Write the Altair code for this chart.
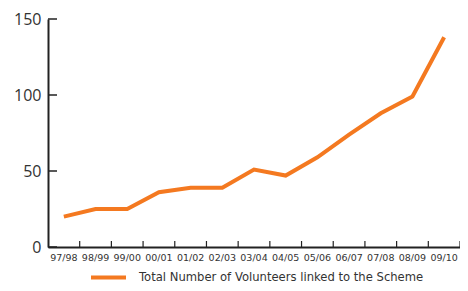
import altair as alt
import pandas as pd

years = ["97/98", "98/99", "99/00", "00/01", "01/02", "02/03", "03/04",
         "04/05", "05/06", "06/07", "07/08", "08/09", "09/10"]
volunteers = [20, 25, 25, 36, 39, 39, 51, 47, 59, 74, 88, 99, 138]
y_ticks = [0, 50, 100, 150]
series_name = "Total Number of Volunteers linked to the Scheme"

df = pd.DataFrame({"year": years, "value": volunteers, "series": series_name})
ticks_df = pd.DataFrame({"value": y_ticks})

AXIS_COLOR = "#222222"
TEXT_COLOR = "#333333"
xscale = alt.Scale(type="band", paddingInner=0, paddingOuter=0, domain=years)
yscale = alt.Scale(domain=[0, 150], nice=False, zero=True)

xaxis = alt.Axis(title=None, ticks=False, labelAngle=0,
                 labelFont="DejaVu Sans", labelFontSize=9.5,
                 labelColor=TEXT_COLOR, labelPadding=5,
                 domainColor=AXIS_COLOR, domainWidth=2)
yaxis = alt.Axis(title=None, ticks=False, grid=False, values=y_ticks,
                 labelFont="Open Sans", labelFontSize=16,
                 labelColor=TEXT_COLOR, labelPadding=7,
                 domainColor=AXIS_COLOR, domainWidth=2)

line = alt.Chart(df).mark_line(strokeWidth=4).encode(
    x=alt.X("year:O", scale=xscale, sort=years, bandPosition=0.5, axis=xaxis),
    y=alt.Y("value:Q", scale=yscale, axis=yaxis),
    color=alt.Color("series:N", scale=alt.Scale(range=["#F47920"]),
                    legend=alt.Legend(title=None, orient="none",
                                      legendX=41, legendY=239,
                                      symbolType="stroke", symbolSize=1225,
                                      symbolStrokeWidth=4, labelOffset=11,
                                      labelLimit=0,
                                      labelFont="DejaVu Sans", labelFontSize=11.6,
                                      labelColor=TEXT_COLOR)),
)

xticks = alt.Chart(df).mark_rule(color=AXIS_COLOR, strokeWidth=1.2).encode(
    x=alt.X("year:O", scale=xscale, sort=years, bandPosition=1, axis=xaxis),
    y=alt.value(228), y2=alt.value(222),
)

yticks = alt.Chart(ticks_df).mark_rule(color=AXIS_COLOR, strokeWidth=1.5).encode(
    y=alt.Y("value:Q", scale=yscale, axis=yaxis),
    x=alt.value(0), x2=alt.value(9),
)

chart = alt.layer(line, xticks, yticks).properties(
    width=412, height=228,
    autosize=alt.AutoSizeParams(type="none"),
    padding={"left": 40, "top": 11, "right": 0, "bottom": 36},
).configure_view(stroke=None)

chart.save("out.html", embed_options={"renderer": "svg", "actions": False})
